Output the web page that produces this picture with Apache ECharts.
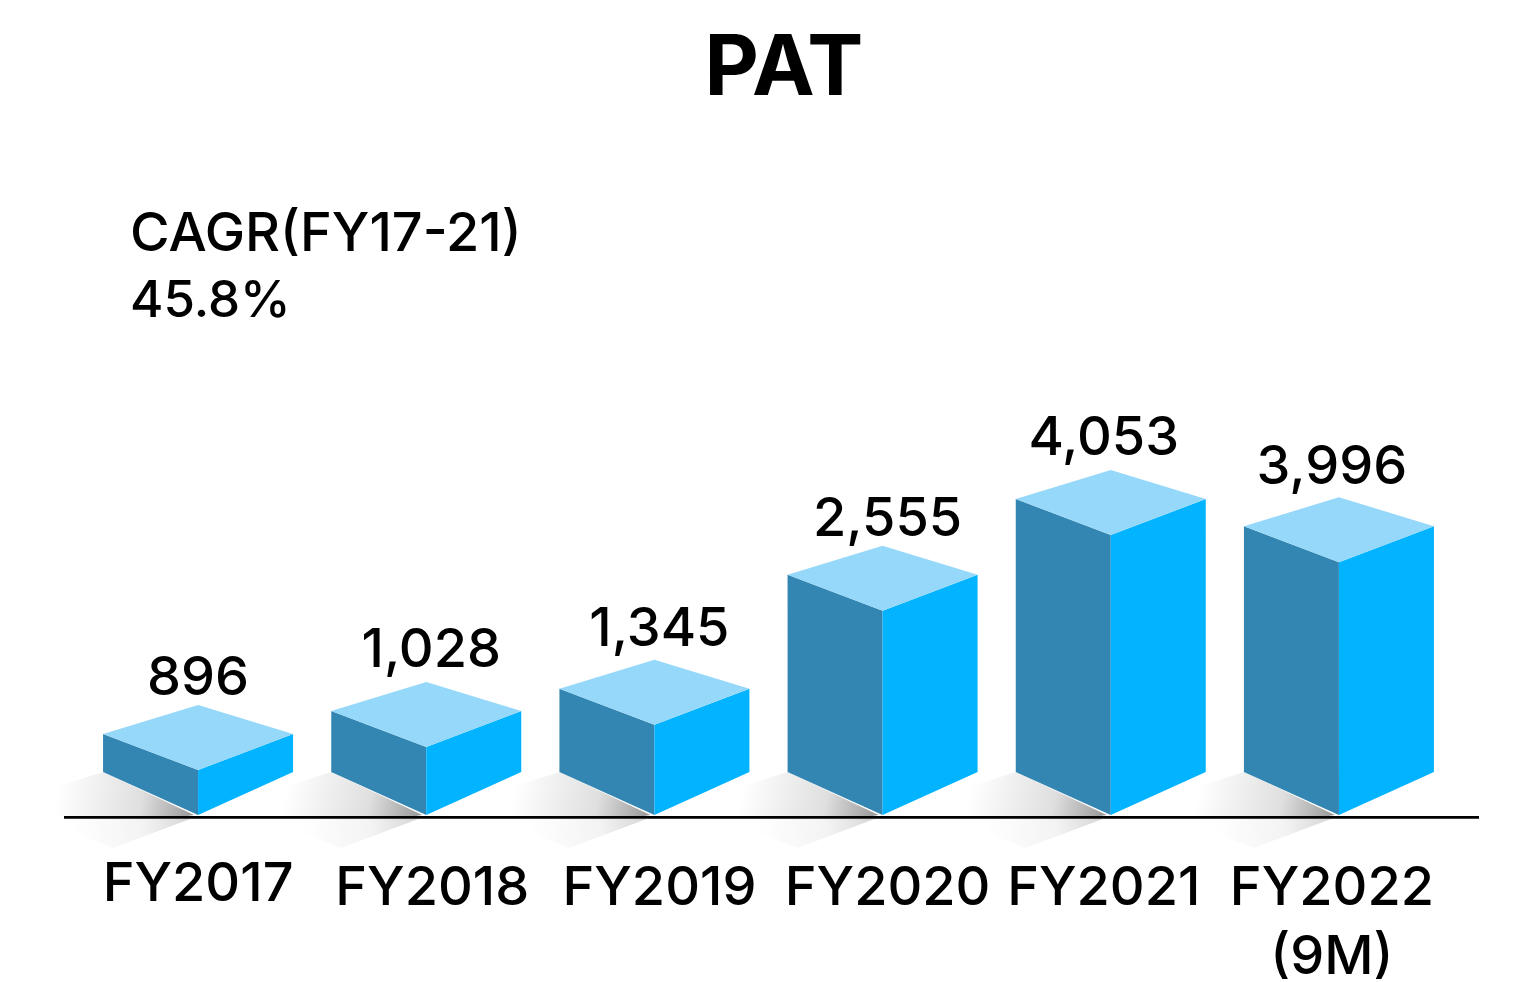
<!DOCTYPE html>
<html>
<head>
<meta charset="utf-8">
<script src="https://cdn.jsdelivr.net/npm/echarts@6/dist/echarts.min.js"></script>
<style>
  html, body { margin: 0; padding: 0; background: #fff; }
</style>
</head>
<body>
<div id="main" style="width: 1516px;height:982px;"></div>

<script type="text/javascript">
    // chart data
    var categories = ['FY2017', 'FY2018', 'FY2019', 'FY2020', 'FY2021', 'FY2022\n(9M)'];
    var patLabels = ['896', '1,028', '1,345', '2,555', '4,053', '3,996'];
    // the bars in the source are not to scale with their labels, so the drawn
    // heights are read off the picture separately, scaled to the 4,053 bar
    var drawnHeights = [650, 985, 1305, 2955, 4053, 3660];

    var FONT = 'Inter, "Open Sans", sans-serif';

    // small per-label shifts [dx, dy] of the labels over the bars
    var valueNudge = [[0, 2], [5, -3], [5, -2], [5, 2], [-7, -3], [-7, -1]];
    var axisNudge = [[0, 0], [6, 4], [5, 4], [5, 4], [-7, 4], [-7, 4]];

    function renderBar(params, api) {
        var i = params.dataIndex;
        var p = api.coord([api.value(0), api.value(1)]);
        var base = api.coord([api.value(0), 0]);
        var cx = p[0], top = p[1], bottom = base[1];
        var w = 95;

        function poly(points, fill) {
            return { type: 'polygon', shape: { points: points }, style: { fill: fill } };
        }
        function fade(x, y, x2, y2, alpha) {
            return new echarts.graphic.LinearGradient(x, y, x2, y2, [
                { offset: 0, color: 'rgba(0,0,0,' + alpha + ')' },
                { offset: 0.4, color: 'rgba(0,0,0,' + alpha * 0.3 + ')' },
                { offset: 1, color: 'rgba(0,0,0,0)' }
            ], true);
        }

        return {
            type: 'group',
            children: [
                // shadow on the floor and its reflection under the line
                poly([[cx - 4, bottom], [cx - w, bottom - 43], [cx - 142, bottom - 28], [cx - 185, bottom + 1], [cx - 10, bottom + 1]],
                    fade(cx - 2, bottom, cx - 140, bottom - 28, 0.42)),
                poly([[cx - 8, bottom + 4], [cx - 160, bottom + 4], [cx - 85, bottom + 33]],
                    fade(cx - 8, bottom + 4, cx - 125, bottom + 20, 0.16)),
                // left face, right face, top
                poly([[cx - w, top - 36], [cx, top], [cx, bottom], [cx - w, bottom - 43]], '#3386b2'),
                poly([[cx, top], [cx + w, top - 36], [cx + w, bottom - 43], [cx, bottom]], '#02b3ff'),
                poly([[cx - w, top - 36], [cx, top - 65], [cx + w, top - 36], [cx, top]], '#96d8f9'),
                {
                    type: 'text',
                    style: {
                        text: patLabels[i],
                        x: cx + valueNudge[i][0],
                        y: top - 65 - 28 + valueNudge[i][1],
                        align: 'center',
                        verticalAlign: 'middle',
                        font: '550 54px ' + FONT,
                        fill: '#000'
                    }
                }
            ]
        };
    }

    var myChart = echarts.init(document.getElementById('main'));

    var option = {
        animation: false,
        backgroundColor: '#fff',
        title: {
            text: 'PAT',
            left: 779,
            top: 23,
            textAlign: 'center',
            textStyle: { fontFamily: FONT, fontWeight: 700, fontSize: 84, color: '#000' }
        },
        grid: { left: 84, width: 1369, top: 469.6, height: 345.4, outerBoundsMode: 'none' },
        xAxis: {
            type: 'category',
            data: categories.map(function (c, i) {
                var n = axisNudge[i];
                return {
                    value: c,
                    textStyle: {
                        padding: [n[1], n[0] < 0 ? -2 * n[0] : 0, 0, n[0] > 0 ? 2 * n[0] : 0]
                    }
                };
            }),
            axisLine: { show: false },
            axisTick: { show: false },
            axisLabel: {
                interval: 0,
                margin: 35,
                fontFamily: FONT,
                fontWeight: 550,
                fontSize: 54,
                lineHeight: 69,
                color: '#000'
            }
        },
        yAxis: { type: 'value', min: 0, max: 5000, show: false },
        graphic: [
            {
                type: 'line',
                shape: { x1: 64, y1: 817.4, x2: 1479, y2: 817.4 },
                style: { stroke: '#000', lineWidth: 2.6 },
                z: 10
            },
            {
                type: 'text',
                left: 130,
                top: 208,
                style: { text: 'CAGR(FY17-21)', font: '550 54px ' + FONT, fill: '#000' }
            },
            {
                type: 'text',
                left: 130,
                top: 276,
                style: { text: '45.8%', font: '550 51px ' + FONT, fill: '#000' }
            }
        ],
        series: [{
            type: 'custom',
            name: 'PAT',
            renderItem: renderBar,
            clip: false,
            encode: { x: 0, y: 1 },
            data: drawnHeights.map(function (h, i) { return [i, h]; })
        }]
    };

    myChart.setOption(option);
</script>
</body>
</html>
